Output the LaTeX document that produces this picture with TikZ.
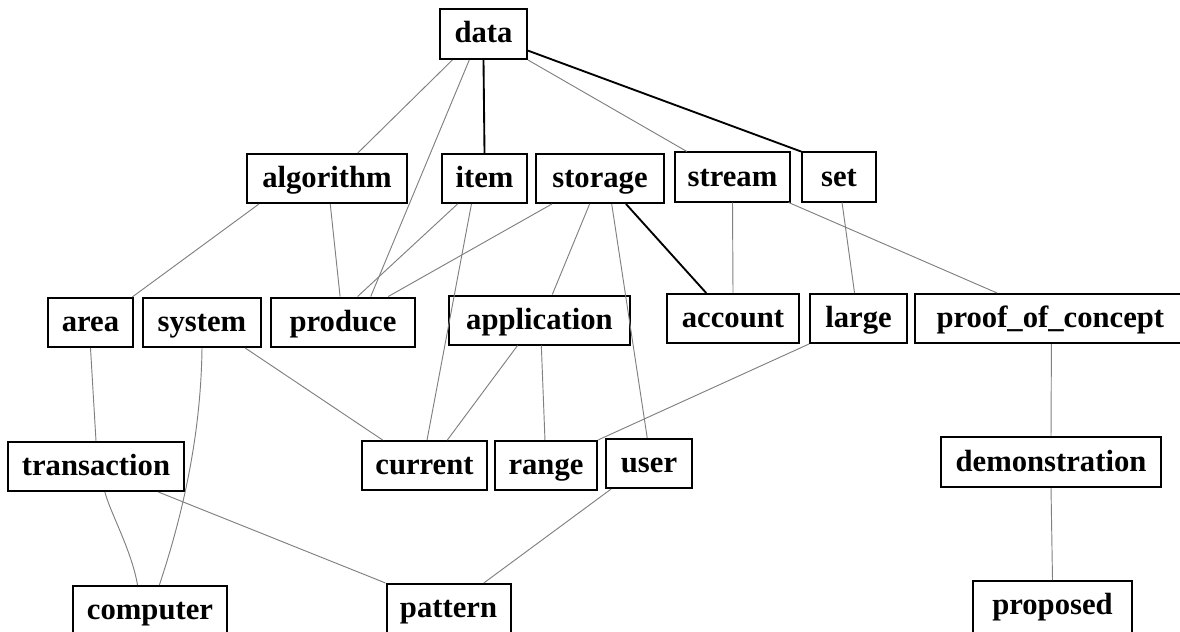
\documentclass[tikz,border=0pt]{standalone}
\usepackage{fontspec}
\setmainfont{Liberation Serif}
\usetikzlibrary{calc}
\tikzset{
  term/.style={draw, line width=1.5pt, inner sep=0pt, minimum height=36.75pt,
    text height=16.8pt, text depth=3.3pt,
    font=\fontsize{23}{26}\selectfont\bfseries},
  bw/.style={minimum width=#1*0.75pt},
  % boxes of the lowest row run past the lower edge
  lowterm/.style={term, anchor=north, minimum height=45pt, text depth=11.5pt},
  weak/.style={draw=black!50, line width=0.7pt},
  strong/.style={draw=black, line width=1.4pt},
}
\begin{document}
\begin{tikzpicture}[x=0.75pt, y=-0.75pt]
\useasboundingbox (0,0) rectangle (1180,631);
\clip (0,0) rectangle (1180,631);
\fill[white] (0,0) rectangle (1180,631);

% terms, level by level
\node[term, bw=87, minimum height=37.5pt] (data) at (483.5,34) {data};

\node[term, bw=160] (algorithm) at (327,178.5) {algorithm};
\node[term, bw=85]  (item)      at (484.5,178.5) {item};
\node[term, bw=128] (storage)   at (600,178.5) {storage};
\node[term, bw=115] (stream)    at (732.5,177) {stream};
\node[term, bw=74]  (set)       at (839,177) {set};

\node[term, bw=85]  (area)        at (90.5,322.5) {area};
\node[term, bw=118] (system)      at (202,322.5) {system};
\node[term, bw=144] (produce)     at (343,322) {produce};
\node[term, bw=181] (application) at (539.5,320) {application};
\node[term, bw=132] (account)     at (733,318.5) {account};
\node[term, bw=97]  (large)       at (858.5,318.5) {large};
\node[term, bw=300] (proof)       at (1065,318.5) {proof\_of\_concept\hspace*{22pt}};

\node[term, bw=176] (transaction)   at (96,466.5) {transaction};
\node[term, bw=125] (current)       at (424.5,465.5) {current};
\node[term, bw=102] (range)         at (546,465.5) {range};
\node[term, bw=86]  (user)          at (649,463.5) {user};
\node[term, bw=220, minimum height=37.5pt] (demonstration) at (1051,462) {demonstration};

\node[lowterm, bw=154] (computer) at (150,585) {computer};
\node[lowterm, bw=124] (pattern)  at (448.5,583) {pattern};
\node[lowterm, bw=159] (proposed) at (1052.5,580) {proposed};

% weak links
\draw[weak] ($(data.south west)!0.15!(data.south east)$) -- ($(algorithm.north west)!0.69!(algorithm.north east)$);
\draw[weak] ($(data.south west)!0.34!(data.south east)$) -- ($(produce.north west)!0.69!(produce.north east)$);
\draw[weak] (data.south east) -- ($(stream.north west)!0.11!(stream.north east)$);
\draw[weak] ($(algorithm.south west)!0.08!(algorithm.south east)$) -- ($(area.north west)!0.98!(area.north east)$);
\draw[weak] ($(algorithm.south west)!0.52!(algorithm.south east)$) -- ($(produce.north west)!0.48!(produce.north east)$);
\draw[weak] ($(item.south west)!0.19!(item.south east)$) -- ($(produce.north west)!0.60!(produce.north east)$);
\draw[weak] ($(item.south west)!0.35!(item.south east)$) -- ($(current.north west)!0.52!(current.north east)$);
\draw[weak] ($(storage.south west)!0.13!(storage.south east)$) -- ($(produce.north west)!0.81!(produce.north east)$);
\draw[weak] ($(storage.south west)!0.42!(storage.south east)$) -- ($(application.north west)!0.57!(application.north east)$);
\draw[weak] ($(storage.south west)!0.59!(storage.south east)$) -- ($(user.north west)!0.48!(user.north east)$);
\draw[weak] (stream.south) -- (account.north);
\draw[weak] ($(stream.south west)!0.98!(stream.south east)$) -- ($(proof.north west)!0.275!(proof.north east)$);
\draw[weak] ($(set.south west)!0.54!(set.south east)$) -- ($(large.north west)!0.46!(large.north east)$);
\draw[weak] (area.south) -- (transaction.north);
\draw[weak] (system.south) .. controls +(-1,83) and +(25,-75) .. ($(computer.north west)!0.56!(computer.north east)$);
\draw[weak] ($(system.south west)!0.86!(system.south east)$) -- ($(current.north west)!0.17!(current.north east)$);
\draw[weak] ($(application.south west)!0.38!(application.south east)$) -- ($(current.north west)!0.68!(current.north east)$);
\draw[weak] ($(application.south west)!0.51!(application.south east)$) -- ($(range.north west)!0.49!(range.north east)$);
\draw[weak] (large.south west) -- (range.north east);
\draw[weak] ($(user.south west)!0.07!(user.south east)$) -- ($(pattern.north west)!0.78!(pattern.north east)$);
\draw[weak] ($(transaction.south west)!0.55!(transaction.south east)$) .. controls +(5,20) and +(-6,-35) .. ($(computer.north west)!0.42!(computer.north east)$);
\draw[weak] ($(transaction.south west)!0.85!(transaction.south east)$) -- (pattern.north west);
\draw[weak] ($(proof.south west)!0.455!(proof.south east)$) -- (demonstration.north);
\draw[weak] (demonstration.south) -- (proposed.north);

% strong links
\draw[strong] (data.south) -- (item.north);
\draw[strong] ($(data.north east)!0.82!(data.south east)$) -- (set.north west);
\draw[strong] ($(storage.south west)!0.70!(storage.south east)$) -- ($(account.north west)!0.30!(account.north east)$);
\end{tikzpicture}
\end{document}
